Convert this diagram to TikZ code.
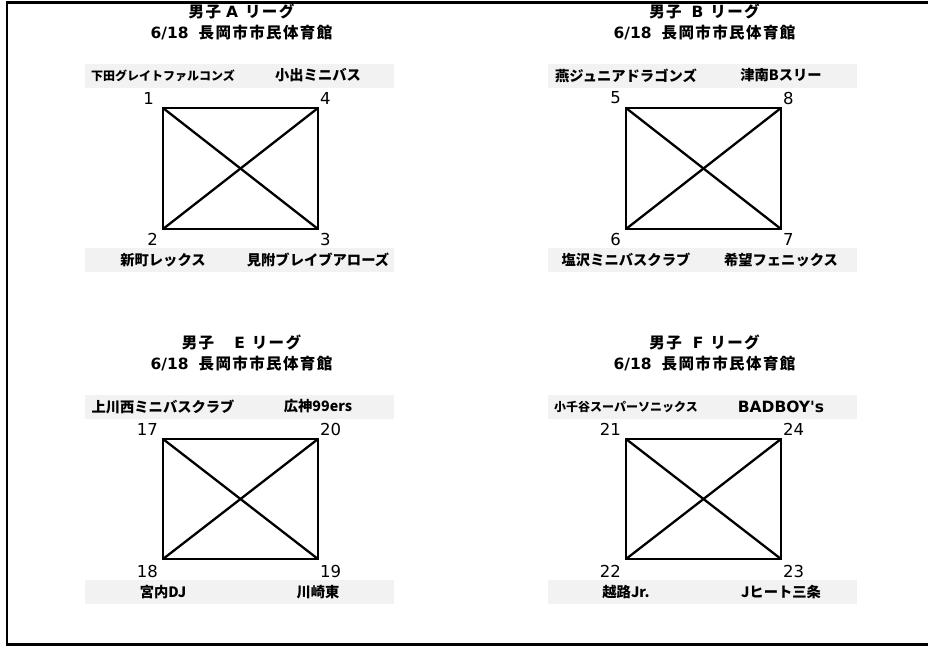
\documentclass[tikz,border=0pt]{standalone}
\usepackage{fontspec}
\newfontfamily\jp{Noto Sans CJK JP}
\newfontfamily\jpt{Noto Sans CJK JP}[LetterSpace=9]
\newfontfamily\numf{DejaVu Sans}
\newcommand\latb[1]{{\numf\bfseries\fontsize{15.5}{18}\selectfont #1}}
\definecolor{barg}{HTML}{F2F2F2}
\tikzset{
  frameline/.style={line width=2.4pt},
  boxline/.style={line width=2.3pt},
  bar/.style={fill=barg, draw=none, minimum width=309pt, minimum height=24pt, inner sep=0pt},
  ttl/.style={font=\jpt\bfseries\fontsize{15.5}{18}\selectfont, inner sep=0pt},
  team/.style={font=\jp\bfseries\fontsize{14.3}{16}\selectfont, inner sep=0pt},
  teamsm/.style={font=\jp\bfseries\fontsize{12}{14}\selectfont, inner sep=0pt},
  num/.style={font=\numf\fontsize{16.5}{18}\selectfont, inner sep=0pt},
}
\begin{document}
\begin{tikzpicture}[x=1pt,y=-1pt]
\useasboundingbox (0,0) rectangle (928,646);
% frame (right side lies beyond the picture)
\coordinate (fTR) at (940,2.5);
\coordinate (fTL) at (6.7,2.5);
\coordinate (fBL) at (6.7,644.5);
\coordinate (fBR) at (940,644.5);
\draw[frameline] (fTR) -- (fTL) -- (fBL) -- (fBR);

% ---------- league A ----------
\begin{scope}[shift={(0,0)}]
\node[ttl] (tA1) at (241.5,11.5) {男子\hspace{5pt}\latb{A}\hspace{7pt}リーグ};
\node[ttl] (tA2) at (241.5,32.5) {\latb{6/18}\hspace{10pt}長岡市市民体育館};
\node[bar] (barA1) at (239.5,75.5) {};
\node[bar] (barA2) at (239.5,260) {};
\coordinate (A1) at (163,108);
\coordinate (A4) at (318,108);
\coordinate (A2) at (163,229);
\coordinate (A3) at (318,229);
\draw[boxline] (A1) -- (A4) -- (A3) -- (A2) -- cycle;
\draw[boxline] (A1) -- (A3);
\draw[boxline] (A2) -- (A4);
\node[num, anchor=east] (nA1) at (154,98) {1};
\node[num, anchor=west] (nA4) at (320,98) {4};
\node[num, anchor=east] (nA2) at (158,239) {2};
\node[num, anchor=west] (nA3) at (320,239) {3};
\node[teamsm] (mA1) at (163,75.5) {下田グレイトファルコンズ};
\node[team] (mA4) at (318,75.5) {小出ミニバス};
\node[team] (mA2) at (163,260) {新町レックス};
\node[team] (mA3) at (318,260) {見附ブレイブアローズ};
\end{scope}

% ---------- league B ----------
\begin{scope}[shift={(463,0)}]
\node[ttl] (tB1) at (241.5,11.5) {男子\hspace{10pt}\latb{B}\hspace{7pt}リーグ};
\node[ttl] (tB2) at (241.5,32.5) {\latb{6/18}\hspace{10pt}長岡市市民体育館};
\node[bar] (barB1) at (239.5,75.5) {};
\node[bar] (barB2) at (239.5,260) {};
\coordinate (B5) at (163,108);
\coordinate (B8) at (318,108);
\coordinate (B6) at (163,229);
\coordinate (B7) at (318,229);
\draw[boxline] (B5) -- (B8) -- (B7) -- (B6) -- cycle;
\draw[boxline] (B5) -- (B7);
\draw[boxline] (B6) -- (B8);
\node[num, anchor=east] (nB5) at (158,98) {5};
\node[num, anchor=west] (nB8) at (320,98) {8};
\node[num, anchor=east] (nB6) at (158,239) {6};
\node[num, anchor=west] (nB7) at (320,239) {7};
\node[team] (mB5) at (163,75.5) {燕ジュニアドラゴンズ};
\node[team] (mB8) at (318,75.5) {津南Bスリー};
\node[team] (mB6) at (163,260) {塩沢ミニバスクラブ};
\node[team] (mB7) at (318,260) {希望フェニックス};
\end{scope}

% ---------- league E ----------
\begin{scope}[shift={(0,331)}]
\node[ttl] (tE1) at (241.5,11.5) {男子\hspace{20pt}\latb{E}\hspace{7pt}リーグ};
\node[ttl] (tE2) at (241.5,32.5) {\latb{6/18}\hspace{10pt}長岡市市民体育館};
\node[bar] (barE1) at (239.5,75.5) {};
\node[bar] (barE2) at (239.5,261) {};
\coordinate (E17) at (163,108);
\coordinate (E20) at (318,108);
\coordinate (E18) at (163,228);
\coordinate (E19) at (318,228);
\draw[boxline] (E17) -- (E20) -- (E19) -- (E18) -- cycle;
\draw[boxline] (E17) -- (E19);
\draw[boxline] (E18) -- (E20);
\node[num, anchor=east] (nE17) at (158,98) {17};
\node[num, anchor=west] (nE20) at (320,98) {20};
\node[num, anchor=east] (nE18) at (158,240) {18};
\node[num, anchor=west] (nE19) at (320,240) {19};
\node[team] (mE17) at (163,75.5) {上川西ミニバスクラブ};
\node[team] (mE20) at (318,75.5) {広神99ers};
\node[team] (mE18) at (163,261) {宮内DJ};
\node[team] (mE19) at (318,261) {川崎東};
\end{scope}

% ---------- league F ----------
\begin{scope}[shift={(463,331)}]
\node[ttl] (tF1) at (241.5,11.5) {男子\hspace{11pt}\latb{F}\hspace{7pt}リーグ};
\node[ttl] (tF2) at (241.5,32.5) {\latb{6/18}\hspace{10pt}長岡市市民体育館};
\node[bar] (barF1) at (239.5,75.5) {};
\node[bar] (barF2) at (239.5,261) {};
\coordinate (F21) at (163,108);
\coordinate (F24) at (318,108);
\coordinate (F22) at (163,228);
\coordinate (F23) at (318,228);
\draw[boxline] (F21) -- (F24) -- (F23) -- (F22) -- cycle;
\draw[boxline] (F21) -- (F23);
\draw[boxline] (F22) -- (F24);
\node[num, anchor=east] (nF21) at (158,98) {21};
\node[num, anchor=west] (nF24) at (320,98) {24};
\node[num, anchor=east] (nF22) at (158,240) {22};
\node[num, anchor=west] (nF23) at (320,240) {23};
\node[teamsm] (mF21) at (163,75.5) {小千谷スーパーソニックス};
\node[team, font=\numf\bfseries\fontsize{15.5}{17}\selectfont] (mF24) at (318,75.5) {BADBOY's};
\node[team] (mF22) at (163,261) {越路Jr.};
\node[team] (mF23) at (318,261) {Jヒート三条};
\end{scope}
\end{tikzpicture}
\end{document}
